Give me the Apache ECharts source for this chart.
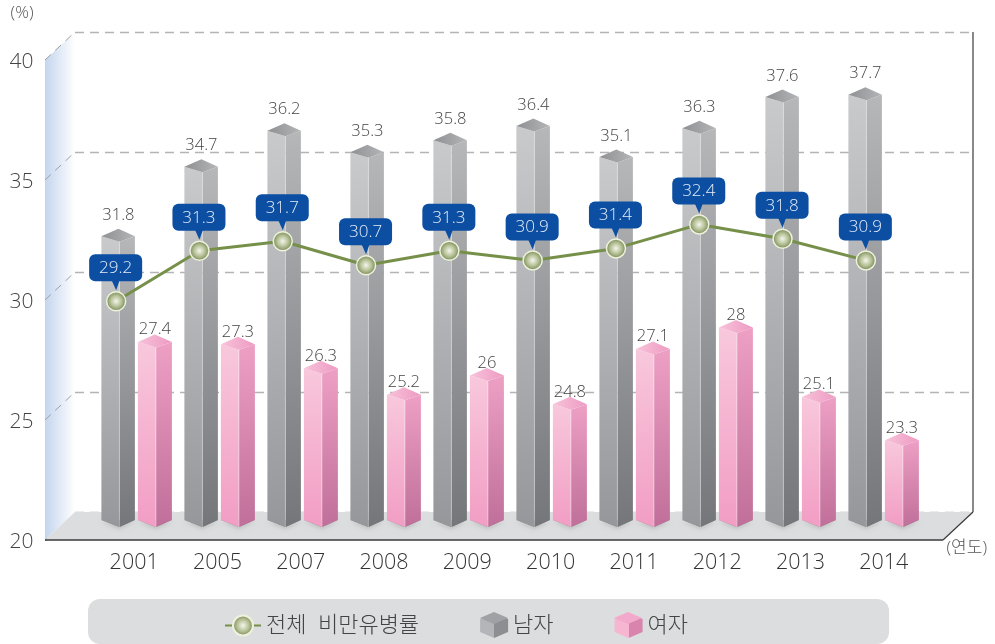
<!DOCTYPE html>
<html>
<head>
<meta charset="utf-8">
<style>html,body{margin:0;padding:0;background:#fff}#c{width:995px;height:644px}</style>
<script src="https://cdn.jsdelivr.net/npm/echarts@6/dist/echarts.min.js"></script>
</head>
<body>
<div id="c"></div>
<script>
const years = ['2001','2005','2007','2008','2009','2010','2011','2012','2013','2014'];
const total = [29.2,31.3,31.7,30.7,31.3,30.9,31.4,32.4,31.8,30.9];
const male = [31.8,34.7,36.2,35.3,35.8,36.4,35.1,36.3,37.6,37.7];
const female = [27.4,27.3,26.3,25.2,26,24.8,27.1,28,25.1,23.3];
const yTicks = [20,25,30,35,40];
const FONT = '"Open Sans","Noto Sans CJK KR",sans-serif';
const vgrad = (a,b)=>({type:'linear',x:0,y:0,x2:0,y2:1,colorStops:[{offset:0,color:a},{offset:1,color:b}]});
const hgrad = (a,b)=>({type:'linear',x:0,y:0,x2:1,y2:0,colorStops:[{offset:0,color:a},{offset:1,color:b}]});

const maleStyle = {left:-32.5, ridge:-14.5, right:1, labelDy:-13.5,
  faceL:vgrad('#c9cacc','#96979b'), faceR:vgrad('#b6b7b9','#75767a'), top:hgrad('#8f9093','#b4b5b7'), ridgeC:'rgba(255,255,255,0.35)'};
const femaleStyle = {left:4, ridge:22, right:38, labelDy:-5,
  faceL:vgrad('#f8c8dc','#f29dc4'), faceR:vgrad('#ee9fc4','#bf6f99'), top:hgrad('#f7c3da','#ee9ac2'), ridgeC:'rgba(255,255,255,0.45)'};

function barRenderer(st){
  return function(params, api){
    const v = api.value(1);
    const p = api.coord([api.value(0), v]);
    const b = api.coord([api.value(0), 20]);
    const cx = p[0], ya = p[1], yb = b[1];
    const L = cx+st.left, M = cx+st.ridge, R = cx+st.right;
    const ch = [];
    ch.push({type:'polygon', shape:{points:[[L,yb+8],[M,yb+15],[R,yb+8]]},
      style:{fill:'rgba(0,0,0,0.35)', shadowBlur:4, shadowColor:'rgba(0,0,0,0.4)', shadowOffsetY:2}});
    ch.push({type:'polygon', shape:{points:[[L,ya+7.5],[M,ya+13],[M,yb+15],[L,yb+8]]}, style:{fill:st.faceL}});
    ch.push({type:'polygon', shape:{points:[[M,ya+13],[R,ya+7.5],[R,yb+8],[M,yb+15]]}, style:{fill:st.faceR}});
    ch.push({type:'polygon', shape:{points:[[L,ya+7.5],[M-1,ya],[R,ya+7.5],[M,ya+13]]}, style:{fill:st.top}});
    ch.push({type:'line', shape:{x1:M,y1:ya+13,x2:M,y2:yb+15}, style:{stroke:st.ridgeC,lineWidth:1}});
    ch.push({type:'text', style:{text:String(v), x:M-1, y:ya+st.labelDy, align:'center', verticalAlign:'middle',
      fill:'#444', font:'300 16.5px '+FONT}});
    return {type:'group', children:ch};
  };
}

function wallRenderer(params, api){
  const c = params.coordSys, dx = 30, dy = 28;
  const p = api.coord([0, api.value(1)]);
  const ch = [];
  const bottom = c.y+c.height, right = c.x+c.width;
  if (params.dataIndex === 0) {
    ch.push({type:'polygon', shape:{points:[[c.x-dx,c.y+dy],[c.x,c.y],[c.x,bottom],[c.x-dx,bottom+dy]]}, style:{fill:hgrad('#c3d5ee','#ffffff')}});
    ch.push({type:'polygon', shape:{points:[[c.x-dx,bottom+dy],[c.x,bottom],[right,bottom],[right-dx,bottom+dy]]}, style:{fill:'#dcddde'}});
    ch.push({type:'line', shape:{x1:c.x-dx,y1:bottom+dy,x2:right-dx,y2:bottom+dy}, style:{stroke:'#3a3a3a',lineWidth:1.5}});
    ch.push({type:'line', shape:{x1:right-dx,y1:bottom+dy,x2:right,y2:bottom}, style:{stroke:'#3a3a3a',lineWidth:1.2}});
    ch.push({type:'line', shape:{x1:right,y1:bottom,x2:right,y2:c.y}, style:{stroke:'#3a3a3a',lineWidth:1.2}});
  } else {
    ch.push({type:'line', shape:{x1:c.x-dx,y1:p[1]+dy,x2:c.x,y2:p[1]}, style:{stroke:'#a0a0a0',lineWidth:1,lineDash:[8,6]}});
  }
  return {type:'group', children:ch};
}

function calloutRenderer(params, api){
  const p = api.coord([api.value(0), api.value(1)]);
  const x = p[0]-0.5, y = p[1];
  return {type:'group', children:[
    {type:'polygon', shape:{points:[[x-4,y-21],[x+4,y-21],[x+0.5,y-11]]}, style:{fill:'#0b4ea2'}},
    {type:'rect', shape:{x:x-26.5,y:y-47,width:53,height:27,r:6}, style:{fill:'#0b4ea2'}},
    {type:'text', style:{text:String(api.value(1)), x:x, y:y-33, align:'center', verticalAlign:'middle', fill:'#e6eef8', font:'300 17px '+FONT}}
  ]};
}

const hiddenX = {type:'category', data:years, axisLine:{show:false}, axisTick:{show:false}, axisLabel:{show:false}, splitLine:{show:false}};
const hiddenY = {type:'value', min:20, max:40, interval:5, axisLine:{show:false}, axisTick:{show:false}, axisLabel:{show:false}, splitLine:{show:false}};
const cubeIcon = 'path://M-8 12.5L-8 12.5M0 6L14 0L28 6L28 19L14 25L0 19Z';
const stepGrad = (a,b)=>({type:'linear',x:0,y:0,x2:1,y2:0,colorStops:[{offset:0,color:a},{offset:0.611,color:a},{offset:0.611,color:b},{offset:1,color:b}]});

const option = {
  animation:false,
  backgroundColor:'#fff',
  textStyle:{fontFamily:FONT},
  grid:[
    {left:92.5, width:833, top:60, height:480},   // front plane: axis line and category labels
    {left:75, width:898, top:32, height:480},     // back wall: gridlines
    {left:92.4, width:830, top:32, height:480},   // bars
    {left:74.5, width:833, top:42, height:480},   // line
    {left:92.5, width:833, top:62, height:480}    // value tick labels
  ],
  xAxis:[
    {gridIndex:0, type:'category', data:years, axisLine:{show:false}, axisTick:{show:false},
     axisLabel:{color:'#333', fontSize:21.5, fontWeight:300, margin:12},
     name:'(연도)', nameLocation:'end', nameGap:21,
     nameTextStyle:{color:'#555', fontSize:17, fontWeight:300, align:'left', verticalAlign:'top'}},
    {gridIndex:1, type:'value', min:0, max:1, axisLine:{show:false}, axisTick:{show:false}, axisLabel:{show:false}, splitLine:{show:false}},
    Object.assign({gridIndex:2}, hiddenX),
    Object.assign({gridIndex:3}, hiddenX),
    Object.assign({gridIndex:4}, hiddenX)
  ],
  yAxis:[
    {gridIndex:0, type:'value', min:20, max:40, interval:5, offset:47,
     axisLine:{show:true, lineStyle:{color:'#3a3a3a', width:1.5}}, axisTick:{show:false},
     axisLabel:{show:false}, splitLine:{show:false},
     name:'(%)', nameLocation:'end', nameGap:38,
     nameTextStyle:{color:'#555', fontSize:17, fontWeight:300, align:'right', padding:[0,12,0,0]}},
    {gridIndex:1, type:'value', min:20, max:40, interval:5, axisLine:{show:false}, axisTick:{show:false}, axisLabel:{show:false},
     splitLine:{show:true, lineStyle:{color:'#b4b4b4', width:1.4, type:[9,6]}}},
    Object.assign({gridIndex:2}, hiddenY),
    Object.assign({gridIndex:3}, hiddenY),
    {gridIndex:4, type:'value', min:20, max:40, interval:5, offset:47, axisLine:{show:false}, axisTick:{show:false},
     axisLabel:{color:'#444', fontSize:21, fontWeight:300, margin:12}, splitLine:{show:false}}
  ],
  legend:{
    left:88, top:599, orient:'horizontal', selectedMode:false,
    padding:[14,201,6,136], backgroundColor:'#dcddde', borderRadius:12,
    itemWidth:36, itemHeight:25, itemGap:53,
    textStyle:{color:'#444', fontSize:22, fontWeight:300, fontFamily:FONT},
    data:[
      {name:'전체  비만유병률'},
      {name:'남자', icon:cubeIcon, itemStyle:{color:stepGrad('#b4b5b8','#8d8e91')}},
      {name:'여자', icon:cubeIcon, itemStyle:{color:stepGrad('#f6b5d1','#d884ad')}}
    ]
  },
  series:[
    {name:'wall', type:'custom', xAxisIndex:1, yAxisIndex:1, z:1, silent:true,
     data:yTicks.map(t=>[0,t]), encode:{x:0,y:1}, renderItem:wallRenderer},
    {name:'남자', type:'custom', xAxisIndex:2, yAxisIndex:2, z:3, silent:true,
     itemStyle:{color:'#a5a6a9'},
     data:years.map((y,i)=>[i,male[i]]), encode:{x:0,y:1}, renderItem:barRenderer(maleStyle)},
    {name:'여자', type:'custom', xAxisIndex:2, yAxisIndex:2, z:3, silent:true,
     itemStyle:{color:'#f4a8ca'},
     data:years.map((y,i)=>[i,female[i]]), encode:{x:0,y:1}, renderItem:barRenderer(femaleStyle)},
    {name:'전체  비만유병률', type:'line', xAxisIndex:3, yAxisIndex:3, z:5, silent:true,
     data:total, symbol:'circle', symbolSize:19,
     lineStyle:{color:'#76904a', width:3},
     itemStyle:{color:{type:'radial',x:0.5,y:0.5,r:0.5,colorStops:[{offset:0,color:'#f4f6ec'},{offset:0.55,color:'#b4bf94'},{offset:1,color:'#6f8350'}]},
       borderColor:'#eef2dc', borderWidth:1.5}},
    {name:'callout', type:'custom', xAxisIndex:3, yAxisIndex:3, z:6, silent:true,
     data:years.map((y,i)=>[i,total[i]]), encode:{x:0,y:1}, renderItem:calloutRenderer}
  ],
  graphic:[
    {type:'polygon', z:100, silent:true, shape:{points:[[480,618],[494,612],[508,618],[494,624]]}, style:{fill:'#a0a1a4'}},
    {type:'polygon', z:100, silent:true, shape:{points:[[614,618],[628,612],[642,618],[628,624]]}, style:{fill:'#f3a9cb'}}
  ]
};
echarts.init(document.getElementById('c'),null,{renderer:'canvas'}).setOption(option);
</script>
</body>
</html>
